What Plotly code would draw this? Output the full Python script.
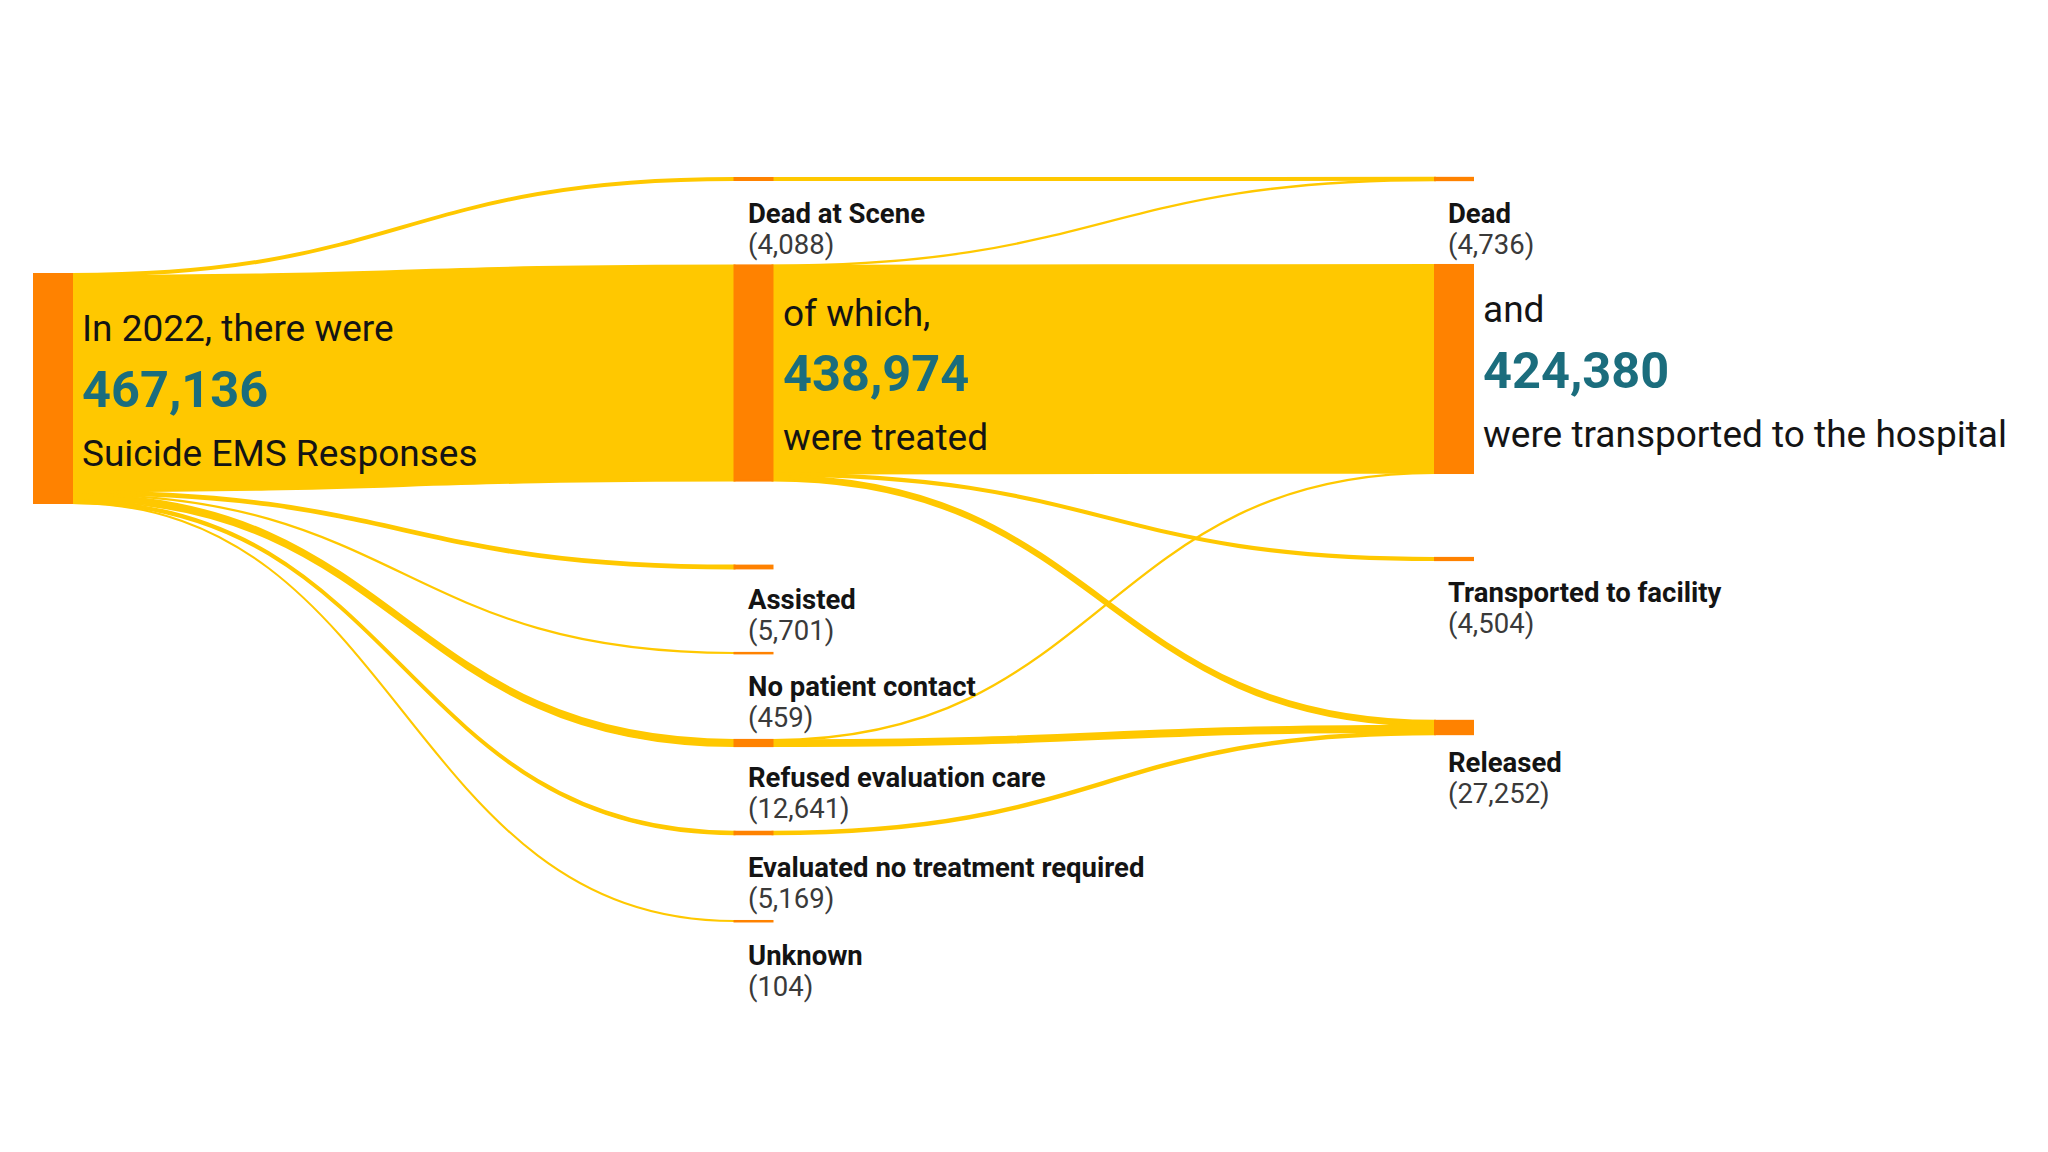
import plotly.graph_objects as go

# ---------------- data ----------------
node_names = [
    "Suicide EMS Responses",            # 0
    "Dead at Scene",                    # 1
    "Treated",                          # 2
    "Assisted",                         # 3
    "No patient contact",               # 4
    "Refused evaluation care",          # 5
    "Evaluated no treatment required",  # 6
    "Unknown",                          # 7
    "Dead",                             # 8
    "Transported to the hospital",      # 9
    "Transported to facility",          # 10
    "Released",                         # 11
]
node_values = [467136, 4088, 438974, 5701, 459, 12641, 5169, 104, 4736, 424380, 4504, 27252]

link_source = [0, 0, 0, 0, 0, 0, 0, 1, 2, 2, 2, 2, 5, 5, 6]
link_target = [1, 2, 3, 4, 5, 6, 7, 8, 8, 9, 10, 11, 9, 11, 11]
link_value = [4088, 438974, 5701, 459, 12641, 5169, 104,
              4088, 648, 423680, 4504, 10142, 700, 11941, 5169]

# big narrative labels (node index -> lines)
big_text = {
    0: ("In 2022, there were", "467,136", "Suicide EMS Responses"),
    2: ("of which,", "438,974", "were treated"),
    9: ("and", "424,380", "were transported to the hospital"),
}

# ---------------- layout / style ----------------
W, H = 2048, 1152
OFF = 8                              # browser body margin
THICK = 38
NODE_LINE = 2
TOTAL_PX = 229                       # pixel height of the first node
DOM_TOP, DOM_H = 230, 680            # sankey domain (page px)
col_of = [0, 1, 1, 1, 1, 1, 1, 1, 2, 2, 2, 2]
col_x_px = [53, 753.5, 1454]         # node centres (page px)
node_y_px = [388.5, 179, 373, 567, 653, 743, 833, 921, 179, 369, 559, 727.5]
label_dy = [0, 35, 0, 32, 33, 34, 34, 34, 35, 0, 33, 35]
n_col1 = 7
pad = (DOM_H - TOTAL_PX) / (n_col1 - 1)

YELLOW = "#FFC800"
ORANGE = "#FF8200"
TEAL = "#1B6D7D"
DARK = "#141414"
GREY = "#3a3a3a"
FONT = "Roboto"

node_x = [(col_x_px[c] - OFF) / W for c in col_of]
node_y = [(y - DOM_TOP) / DOM_H for y in node_y_px]
dom_y = [1 - (DOM_TOP - OFF + DOM_H) / H, 1 - (DOM_TOP - OFF) / H]

fig = go.Figure(go.Sankey(
    arrangement="fixed",
    domain=dict(x=[0, 1], y=dom_y),
    node=dict(
        label=["" for _ in node_names],
        customdata=node_names,
        hovertemplate="%{customdata}: %{value:,}<extra></extra>",
        x=node_x, y=node_y,
        pad=pad, thickness=THICK,
        color=ORANGE,
        line=dict(color=ORANGE, width=NODE_LINE),
    ),
    link=dict(
        source=link_source, target=link_target, value=link_value,
        color=YELLOW,
        line=dict(color=YELLOW, width=2),
    ),
))

annotations = []


def px2paper(x, y):
    return (x - OFF) / W, 1 - (y - OFF) / H


half = THICK / 2 + NODE_LINE / 2
for i, name in enumerate(node_names):
    cx = col_x_px[col_of[i]]
    cy = node_y_px[i]
    if i in big_text:
        l1, l2, l3 = big_text[i]
        xr = cx + half + 7
        for txt, dy, size, color, bold in [(l1, -60, 37, DARK, False),
                                           (l2, 1, 50.5, TEAL, True),
                                           (l3, 65, 37, DARK, False)]:
            px, py = px2paper(xr, cy + dy)
            annotations.append(dict(
                x=px, y=py, xref="paper", yref="paper",
                xanchor="left", yanchor="middle", showarrow=False,
                text=f"<b>{txt}</b>" if bold else txt,
                font=dict(family=FONT, size=size, color=color),
            ))
    else:
        xl = cx - half + 12
        d = label_dy[i]
        for txt, dy, color, bold in [(name, d, DARK, True),
                                     (f"({node_values[i]:,})", d + 31, GREY, False)]:
            px, py = px2paper(xl, cy + dy)
            annotations.append(dict(
                x=px, y=py, xref="paper", yref="paper",
                xanchor="left", yanchor="middle", showarrow=False,
                text=f"<b>{txt}</b>" if bold else txt,
                font=dict(family=FONT, size=27.5, color=color),
            ))

fig.update_layout(
    width=W, height=H,
    margin=dict(l=0, r=0, t=0, b=0),
    paper_bgcolor="white",
    plot_bgcolor="white",
    font=dict(family=FONT),
    annotations=annotations,
)

fig.write_html("out.html")
